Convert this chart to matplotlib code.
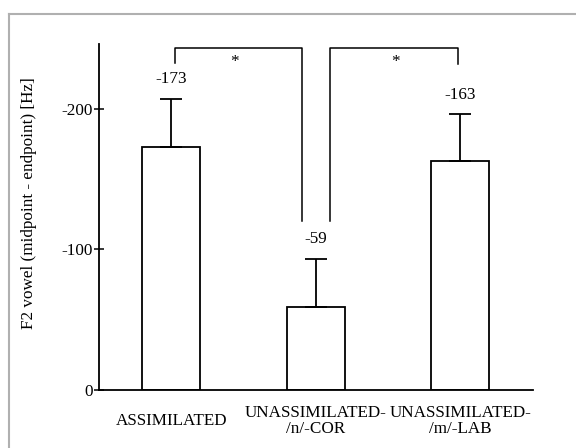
import numpy as np
import matplotlib
matplotlib.use("Agg")
import matplotlib.pyplot as plt
from matplotlib.lines import Line2D

plt.rcParams['font.family'] = ['Liberation Serif', 'DejaVu Serif']

# data
categories = ['ASSIMILATED', 'UNASSIMILATED-\n/n/-COR', 'UNASSIMILATED-\n/m/-LAB']
values = [173, 59, 163]
errors = [34, 34, 33]
value_labels = ['-173', '-59', '-163']
ytick_vals = [0, 100, 200]
ytick_labels = ['0', '-100', '-200']

fig = plt.figure(figsize=(5.76, 4.48), dpi=100)
ax = fig.add_axes([0.1719, 0.1295, 0.9248 - 0.1719, 0.9018 - 0.1295])

x = np.arange(len(values))
ax.bar(x, values, width=0.4, color='white', edgecolor='black', linewidth=1.3, zorder=2)
ax.errorbar(x, values, yerr=[np.zeros(len(errors)), errors], fmt='none',
            ecolor='black', elinewidth=1.3, capsize=8, capthick=1.3, zorder=3)

for xi, v, e, lab in zip(x, values, errors, value_labels):
    ax.text(xi, v + e + 14, lab, ha='center', va='center', fontsize=12.3)

# significance brackets
ax.plot([0.025, 0.025, 0.907, 0.907], [232.5, 243, 243, 120.5], color='black', lw=1.1, clip_on=False)
ax.plot([1.097, 1.097, 1.983, 1.983], [120.5, 243, 243, 232], color='black', lw=1.1, clip_on=False)
ax.text(0.44, 233.5, '*', ha='center', va='center', fontsize=12.3)
ax.text(1.55, 233.5, '*', ha='center', va='center', fontsize=12.3)

ax.set_xlim(-0.5, 2.5)
ax.set_ylim(0, 246)
ax.set_xticks(x)
ax.set_xticklabels(categories, fontsize=12.3, va='center', linespacing=1.0)
ax.tick_params(axis='x', length=0, pad=22)
ax.set_yticks(ytick_vals)
ax.set_yticklabels(ytick_labels, fontsize=12.3)
ax.tick_params(axis='y', direction='inout', length=7, width=1.1, pad=1)

for s in ['top', 'right']:
    ax.spines[s].set_visible(False)
for s in ['left', 'bottom']:
    ax.spines[s].set_linewidth(1.3)

ax.set_ylabel('F2 vowel (midpoint - endpoint) [Hz]', fontsize=12.3)
ax.yaxis.set_label_coords(-0.143, 0.54)

# gray frame at top and left
fig.add_artist(Line2D([9 / 576, 1.0], [1 - 14.5 / 448, 1 - 14.5 / 448], color='#b0b0b0', lw=1.5))
fig.add_artist(Line2D([9 / 576, 9 / 576], [0.0, 1 - 14.5 / 448], color='#b0b0b0', lw=1.5))

fig.savefig('out.png', dpi=100)
